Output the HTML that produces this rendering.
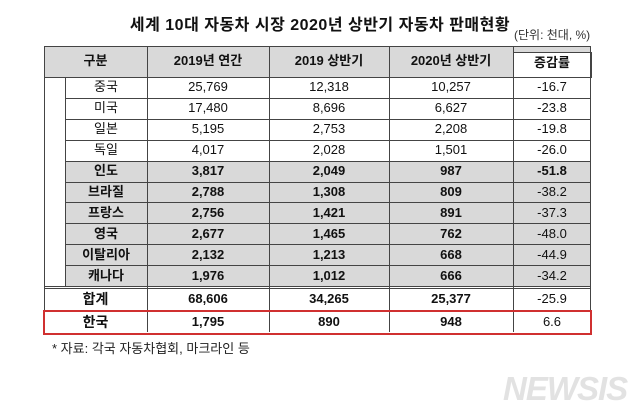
<!DOCTYPE html>
<html><head><meta charset="utf-8"><style>
body{margin:0;width:640px;height:418px;background:#fff;position:relative;overflow:hidden;font-family:"Liberation Sans","Noto Sans CJK KR","NanumGothic",sans-serif;color:#111}
.a{position:absolute}
.c{position:absolute;text-align:center;font-size:13px;line-height:20px}
.b{font-weight:bold}
.hl{position:absolute;background:#444;height:1px}
.vl{position:absolute;background:#444;width:1px}
</style></head><body>
<div class="a b" style="left:0;width:640px;top:11px;text-align:center;font-size:16px;letter-spacing:0.5px">세계 10대 자동차 시장 2020년 상반기 자동차 판매현황</div>
<div class="a" style="left:514px;top:26px;font-size:12px;color:#333">(단위: 천대, %)</div>
<div class="a" style="left:44px;top:46px;width:547px;height:31px;background:#d9d9d9"></div>
<div class="a" style="left:65px;top:162px;width:526px;height:125px;background:#d9d9d9"></div>
<div class="a" style="left:513px;top:52px;width:77px;height:25px;background:#fff;border:1px solid #444;border-bottom:none"></div>
<div id="t"></div>
<div class="a" style="left:43px;top:310px;width:545px;height:21px;border:2px solid #d03030;z-index:5"></div>
<div class="a" style="left:52px;top:338px;font-size:13px;color:#222">* 자료: 각국 자동차협회, 마크라인 등</div>
<div class="a b" style="left:503px;top:370px;font-size:33px;font-style:italic;color:#e2e2e2;letter-spacing:-1px">NEWSIS</div>
<script>
const names=["중국","미국","일본","독일","인도","브라질","프랑스","영국","이탈리아","캐나다","합계","한국"];
const y2019=["25,769","17,480","5,195","4,017","3,817","2,788","2,756","2,677","2,132","1,976","68,606","1,795"];
const h2019=["12,318","8,696","2,753","2,028","2,049","1,308","1,421","1,465","1,213","1,012","34,265","890"];
const h2020=["10,257","6,627","2,208","1,501","987","809","891","762","668","666","25,377","948"];
const rate=["-16.7","-23.8","-19.8","-26.0","-51.8","-38.2","-37.3","-48.0","-44.9","-34.2","-25.9","6.6"];
const headers=["구분","2019년 연간","2019 상반기","2020년 상반기","증감률"];
const t=document.getElementById('t');
const cols=[[44,147],[147,269],[269,389],[389,513],[513,591]];
function add(cls,css,txt,name){const d=document.createElement('div');d.className=cls;d.style.cssText=css;if(txt!==undefined)d.textContent=txt;


t.appendChild(d);return d;}
headers.forEach((h,i)=>{const top=i==4?53:51;add('c b',`left:${cols[i][0]}px;width:${cols[i][1]-cols[i][0]}px;top:${top}px`,h,'column-header');});
const rowTop=i=>i<10?77+i*20.9:(i==10?288:311);
const rowH=i=>i<10?20.9:22;
for(let i=0;i<12;i++){
 const top=rowTop(i);
 const vals=[names[i],y2019[i],h2019[i],h2020[i],rate[i]];
 vals.forEach((v,j)=>{let l=cols[j][0],w=cols[j][1]-l;if(j==0&&i<10){l=65;w=82;}
  let bold=false;
  if(j<4&&i>=4)bold=true;
  if(j==4&&i==4)bold=true;
  add('c'+(bold?' b':''),`left:${l}px;width:${w}px;top:${top+(rowH(i)-20)/2}px;${i>=10&&j==0?'font-size:14px':''}`,v,'cell-'+j);});
 if(i>0&&i<10)add('hl',`left:65px;width:526px;top:${top}px`,undefined,'row-line');
}
add('hl','left:44px;width:547px;top:46px',undefined,'top-line');
add('hl','left:44px;width:547px;top:77px',undefined,'header-line');
add('hl','left:44px;width:547px;top:286px',undefined,'total-line');
add('hl','left:44px;width:547px;top:288px',undefined,'total-line2');
add('vl','left:44px;top:46px;height:266px',undefined,'left-border');
add('vl','left:590px;top:46px;height:266px',undefined,'right-border');
add('vl','left:65px;top:77px;height:210px',undefined,'indent-line');
[147,269,389,513].forEach(x=>add('vl',`left:${x}px;top:46px;height:286px`,undefined,'col-line'));
</script>
</body></html>
